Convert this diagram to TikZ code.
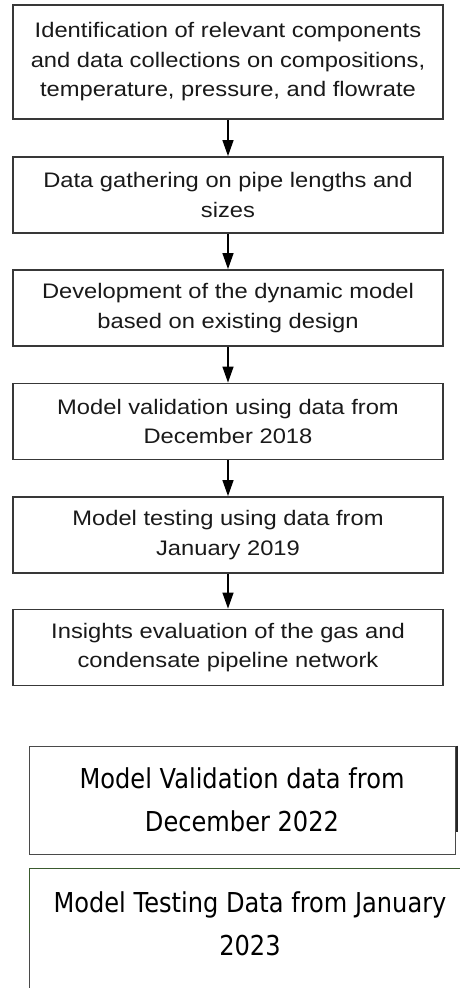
\documentclass[tikz,border=0pt]{standalone}
\usepackage{fontspec}
\newfontfamily\arialx[FakeStretch=1.13]{Liberation Sans}
\newfontfamily\tahx[FakeStretch=0.88]{DejaVu Sans}
\usetikzlibrary{arrows.meta}
\definecolor{boxgreen}{HTML}{3A5A2E}
\definecolor{boxgray}{HTML}{4A4A4A}
\begin{document}
\begin{tikzpicture}[x=1pt,y=-1pt,
  flowbox/.style={draw=black!78, line width=1.8pt, minimum width=430pt, minimum height=76pt,
    inner sep=0pt, align=center, font=\arialx\fontsize{21}{29.5}\selectfont, text=black!90},
  flowarrow/.style={-{Triangle[length=16pt,width=11pt]}, line width=1.3pt, black},
  notebox/.style={inner sep=0pt, align=center, font=\tahx\fontsize{27.4}{43.3}\selectfont, text=black}]
\useasboundingbox (0,0) rectangle (460,988);
\node[flowbox, minimum height=114pt] (b1) at (228,62)
  {Identification of relevant components\\and data collections on compositions,\\temperature, pressure, and flowrate};
\node[flowbox] (b2) at (228,195) {Data gathering on pipe lengths and\\sizes};
\node[flowbox] (b3) at (228,308) {Development of the dynamic model\\based on existing design};
\node[flowbox] (b4) at (228,421.5) {Model validation using data from\\December 2018};
\node[flowbox] (b5) at (228,535) {Model testing using data from\\January 2019};
\node[flowbox] (b6) at (228,647.5) {Insights evaluation of the gas and\\condensate pipeline network};
\draw[flowarrow] (b1) -- (b2);
\draw[flowarrow] (b2) -- (b3);
\draw[flowarrow] (b3) -- (b4);
\draw[flowarrow] (b4) -- (b5);
\draw[flowarrow] (b5) -- (b6);
% lower boxes
\node[notebox, draw=boxgray, line width=1pt, minimum width=426pt, minimum height=108pt] (b7) at (242,800)
  {Model Validation data from\\December 2022};
\draw[line width=1.2pt, black!85] ([xshift=1.5pt]b7.north east) -- ([xshift=1.5pt,yshift=-86pt]b7.north east);
\node[notebox] (b8) at (250,923.5) {Model Testing Data from January\\2023};
\coordinate (c8top) at (29,868);
\coordinate (c8right) at (462,868);
\coordinate (c8mid) at (29,933);
\coordinate (c8bot) at (29,990);
\draw[line width=1pt, boxgreen] (c8mid) -- (c8top) -- (c8right);
\draw[line width=1pt, boxgray] (c8mid) -- (c8bot);
\end{tikzpicture}
\end{document}
